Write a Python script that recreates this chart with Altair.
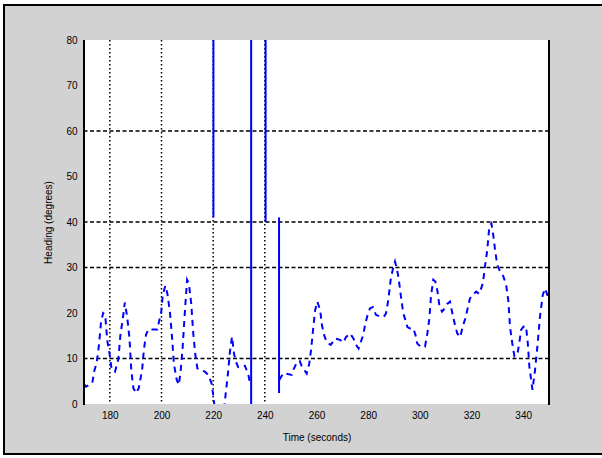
import altair as alt
import pandas as pd

# ---- data ----
t1 = [170.0, 170.8, 173.2, 174.0, 174.9, 175.8, 176.6, 177.4, 178.2, 179.0,
      180.1, 180.7, 182.0, 183.3, 184.1, 185.0, 185.8, 186.7, 187.6, 188.3,
      189.1, 190.2, 191.2, 192.5, 193.2, 194.0, 194.9, 198.4, 199.0, 199.9,
      200.5, 201.5, 202.3, 203.3, 204.1, 204.8, 205.9, 206.7, 207.4, 208.2,
      209.1, 209.9, 210.6, 211.5, 212.3, 213.1, 213.9, 216.8, 218.1, 219.4,
      220.1, 221.0, 223.8, 224.8, 225.6, 226.5, 227.3, 228.1, 228.8, 229.7,
      232.3, 233.6, 234.3]
v1 = [4.4, 3.8, 4.6, 7.3, 9.0, 13.0, 18.0, 20.0, 19.6, 14.0,
      10.3, 7.5, 7.1, 9.9, 15.2, 18.7, 22.3, 19.2, 14.5, 7.5,
      3.5, 2.4, 3.5, 7.5, 12.0, 15.2, 16.4, 16.4, 18.0, 20.2,
      24.0, 26.0, 24.2, 20.0, 14.5, 8.8, 5.3, 4.2, 7.1, 12.6,
      20.7, 27.3, 26.5, 22.1, 15.5, 10.8, 7.8, 7.1, 6.4, 4.5,
      1.6, -3.0, -3.0, 2.0, 6.0, 11.5, 14.8, 11.0, 9.3, 8.1,
      8.4, 6.5, 4.5]

t2 = [245.6, 247.2, 250.4, 251.0, 252.3, 253.5, 254.3, 256.2, 257.2, 257.9,
      258.7, 259.5, 260.3, 261.4, 262.1, 262.9, 264.0, 265.5, 267.2, 269.1,
      270.4, 271.4, 273.0, 274.3, 275.3, 276.3, 277.2, 278.1, 278.9, 279.8,
      280.7, 281.8, 283.0, 284.6, 286.1, 286.9, 287.8, 288.7, 289.5, 290.4,
      291.1, 291.8, 292.6, 293.6, 294.4, 295.2, 296.2, 297.5, 298.3, 299.0,
      300.1, 302.0, 302.9, 303.7, 304.3, 305.2, 306.0, 306.8, 307.6, 308.6,
      309.6, 310.6, 311.7, 312.7, 313.6, 314.5, 315.6, 316.6, 317.6, 318.5,
      319.4, 320.5, 321.8, 323.0, 324.4, 325.2, 326.1, 326.9, 327.7, 328.5,
      329.2, 330.0, 331.1, 332.3, 333.4, 334.3, 334.9, 335.8, 336.6, 337.7,
      338.4, 339.2, 340.1, 341.1, 341.8, 342.4, 343.6, 344.6, 345.5, 346.5,
      347.6, 348.5, 349.8]
v2 = [5.3, 6.8, 6.4, 7.5, 9.0, 9.5, 8.3, 6.7, 8.9, 11.9,
      16.5, 20.7, 22.5, 20.7, 17.4, 15.2, 13.5, 13.0, 14.4, 14.1,
      13.5, 14.7, 15.5, 14.4, 13.0, 12.2, 13.7, 15.2, 17.7, 19.6,
      21.0, 21.3, 19.6, 19.2, 19.2, 19.9, 22.9, 27.3, 29.5, 31.3,
      29.8, 27.6, 24.0, 19.9, 18.5, 16.9, 16.6, 16.6, 15.2, 13.3,
      12.7, 12.6, 15.5, 18.8, 23.6, 27.3, 26.9, 24.9, 21.5, 20.3,
      21.0, 22.0, 22.5, 19.6, 17.4, 15.5, 14.7, 17.0, 18.8, 21.0,
      23.2, 24.0, 24.7, 24.2, 26.5, 30.2, 33.8, 39.0, 39.7, 36.8,
      33.5, 30.5, 29.1, 28.1, 26.2, 22.5, 17.0, 13.3, 10.5, 10.8,
      13.0, 16.3, 17.0, 17.1, 13.3, 8.2, 3.1, 7.5, 12.6, 19.2,
      24.0, 25.4, 23.2]

spike_t = [220.1, 234.7, 240.3, 245.5]
spike_lo = [41.0, 0.0, 40.0, 2.4]
spike_hi = [80.0, 80.0, 80.0, 41.0]

hgrid = [10, 30, 40, 60]
vgrid = [180, 200, 220, 240]
x_ticks = [180, 200, 220, 240, 260, 280, 300, 320, 340]
y_ticks = [0, 10, 20, 30, 40, 50, 60, 70, 80]

# ---- layout ----
W, H = 465, 364
FONT = "Liberation Sans"
xs = alt.Scale(domain=[170, 350], nice=False, zero=False)
ys = alt.Scale(domain=[0, 80], nice=False)

x_axis = alt.Axis(
    values=x_ticks, title="Time (seconds)", grid=False, domain=False, ticks=False,
    labelPadding=6, labelFont=FONT, labelFontSize=10, labelColor="black",
    titleFont=FONT, titleFontSize=10, titleFontWeight="normal", titleColor="black",
    titleX=W / 2, titleY=33, titleAlign="center", titleBaseline="middle",
    labelFlush=False, zindex=2)
y_axis = alt.Axis(
    values=y_ticks, title="Heading (degrees)", grid=False, domain=False, ticks=False,
    labelPadding=7, labelFont=FONT, labelFontSize=10, labelColor="black",
    titleFont=FONT, titleFontSize=10, titleFontWeight="normal", titleColor="black",
    titleX=-36, titleY=H / 2, titleAngle=270, titleAlign="center", titleBaseline="middle",
    labelFlush=False, zindex=2)

line_df = pd.DataFrame({
    "t": t1 + t2,
    "v": v1 + v2,
    "seg": ["a"] * len(t1) + ["b"] * len(t2),
})
spike_df = pd.DataFrame({"t": spike_t, "v": spike_lo, "hi": spike_hi})
hgrid_df = pd.DataFrame({"v": hgrid})
vgrid_df = pd.DataFrame({"t": vgrid})
one = pd.DataFrame({"k": [0]})

# figure background (gray) and its frame on left, top and bottom
bg = alt.Chart(one).mark_rect(fill="#d2d2d2", clip=False).encode(
    x=alt.value(-80), x2=alt.value(518), y=alt.value(-35), y2=alt.value(414)
)
frame_l = alt.Chart(one).mark_rule(color="black", strokeWidth=2).encode(
    x=alt.value(-80), y=alt.value(-35), y2=alt.value(414)
)
frame_t = alt.Chart(one).mark_rule(color="black", strokeWidth=2).encode(
    y=alt.value(-35), x=alt.value(-81), x2=alt.value(518)
)
frame_b = alt.Chart(one).mark_rule(color="black", strokeWidth=2).encode(
    y=alt.value(414), x=alt.value(-81), x2=alt.value(518)
)
plotbg = alt.Chart(one).mark_rect(fill="white").encode(
    x=alt.value(0), x2=alt.value(W), y=alt.value(0), y2=alt.value(H)
)

hg = alt.Chart(hgrid_df).mark_rule(color="black", strokeDash=[4, 2.5], strokeWidth=1.3).encode(
    y=alt.Y("v:Q", scale=ys, axis=y_axis)
)
vg = alt.Chart(vgrid_df).mark_rule(color="black", strokeDash=[1.5, 2.5], strokeWidth=1.5).encode(
    x=alt.X("t:Q", scale=xs, axis=x_axis)
)

line = alt.Chart(line_df).mark_line(
    color="#0000ff", strokeDash=[6, 5], strokeWidth=2, clip=True
).encode(
    x=alt.X("t:Q", scale=xs, axis=x_axis),
    y=alt.Y("v:Q", scale=ys, axis=y_axis),
    detail="seg:N",
)

spikes = alt.Chart(spike_df).mark_rule(color="#0000ff", strokeWidth=2, clip=True).encode(
    x=alt.X("t:Q", scale=xs, axis=x_axis),
    y=alt.Y("v:Q", scale=ys, axis=y_axis),
    y2="hi:Q",
)

left_ax = alt.Chart(one).mark_rule(color="black", strokeWidth=2).encode(
    x=alt.value(0), y=alt.value(0), y2=alt.value(H + 1)
)
right_ax = alt.Chart(one).mark_rule(color="black", strokeWidth=2).encode(
    x=alt.value(W), y=alt.value(0), y2=alt.value(H + 1)
)

chart = alt.layer(
    bg, frame_l, frame_t, frame_b, plotbg, hg, vg, line, spikes, left_ax, right_ax
).properties(
    width=W, height=H,
    padding={"left": 84, "top": 40, "right": 53, "bottom": 54},
    autosize="none",
    background="white",
).configure_view(stroke=None)

chart.save("out.html", embed_options={"renderer": "svg", "actions": False})
